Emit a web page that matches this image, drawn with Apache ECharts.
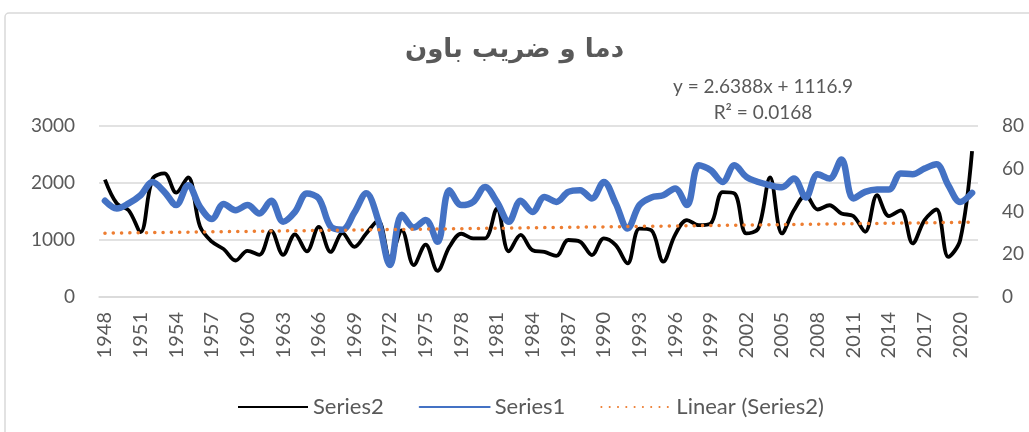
<!DOCTYPE html>
<html>
<head>
<meta charset="utf-8">
<script src="https://cdn.jsdelivr.net/npm/echarts@6/dist/echarts.min.js"></script>
<style>html,body{margin:0;padding:0;background:#fff;}#c{width:1029px;height:432px;}</style>
</head>
<body>
<div id="c"></div>
<script>
var years = [];
for (var y = 1948; y <= 2021; y++) years.push(String(y));

var series2 = [2060,1640,1520,1140,2070,2170,1830,2100,1240,970,840,640,810,740,1160,740,
  1100,800,1230,790,1120,880,1115,1340,680,1170,560,920,460,880,1110,1030,1030,1550,
  800,1090,820,790,720,1000,970,735,1030,910,590,1200,1170,620,1090,1350,1260,1290,
  1840,1815,1115,1200,2100,1115,1520,1785,1535,1610,1465,1420,1145,1785,1420,1520,
  940,1350,1535,705,1000,2560];

var series1 = [45,41.4,43.8,47.6,53.8,49.2,43,52.3,42.2,36.5,43.5,40.6,43,39.1,45,35.2,
  39.8,48.4,46.1,33,31.5,39.5,48.5,36,15,38.5,32.5,36,25.8,50,43,44.5,51.5,44.5,35.2,
  45,39.8,46.8,44.5,49.2,50,46.1,53.8,43.8,32.1,43,46.6,47.6,50.8,43,61.6,59.3,53.8,
  61.6,56.2,53.8,52.3,51.3,55.4,46.6,57.4,55.4,64.3,46.1,49.2,50.3,50.3,57.8,57.4,
  60.1,62.1,52.3,44.5,48.7];

var trendSlope = 2.6388, trendIntercept = 1116.9;
var trend = years.map(function (_, i) { return +(trendSlope * (i + 1) + trendIntercept).toFixed(1); });

var leftTicks = [0, 1000, 2000, 3000];
var rightTicks = [0, 20, 40, 60, 80];
var titleText = 'دما و ضریب باون';
var eqText = 'y = 2.6388x + 1116.9';
var r2Text = 'R² = 0.0168';

var chart = echarts.init(document.getElementById('c'));
var txt = '#595959';
var font = "Lato, 'Noto Sans', sans-serif";
chart.setOption({
  animation: false,
  backgroundColor: '#fff',
  title: {
    text: titleText, left: 'center', top: 32,
    textStyle: { fontFamily: "'DejaVu Sans', sans-serif", fontSize: 26, fontWeight: 'bold', color: txt }
  },
  graphic: [
    { type: 'rect', shape: { x: 5, y: 13, width: 1040, height: 440, r: 4 },
      style: { fill: 'none', stroke: '#d9d9d9', lineWidth: 1.5 }, silent: true, z: -1 },
    { type: 'text', x: 763, y: 87,
      style: { text: eqText, fontFamily: font, fontSize: 19, fill: txt, align: 'center', verticalAlign: 'middle' } },
    { type: 'text', x: 763, y: 113,
      style: { text: r2Text, fontFamily: font, fontSize: 19, fill: txt, align: 'center', verticalAlign: 'middle' } }
  ],
  legend: {
    left: 232, top: 391, itemWidth: 70, itemHeight: 20, itemGap: 35,
    itemStyle: { opacity: 0 },
    textStyle: { fontFamily: font, fontSize: 22, color: txt },
    data: ['Series2', 'Series1', 'Linear (Series2)']
  },
  grid: { left: 99, right: 51, top: 126, bottom: 135, containLabel: false },
  xAxis: {
    type: 'category', data: years, boundaryGap: true,
    axisLine: { lineStyle: { color: '#d9d9d9', width: 1.5 } },
    axisTick: { show: false },
    axisLabel: { interval: 2, rotate: 90, margin: 15, fontFamily: font, fontSize: 20, color: txt }
  },
  yAxis: [
    { type: 'value', min: leftTicks[0], max: leftTicks[leftTicks.length - 1], interval: 1000,
      axisLine: { show: false }, axisTick: { show: false },
      axisLabel: { fontFamily: font, fontSize: 19, color: txt, margin: 24, formatter: function (v) { return String(v); } },
      splitLine: { lineStyle: { color: '#d9d9d9', width: 1.5 } } },
    { type: 'value', min: rightTicks[0], max: rightTicks[rightTicks.length - 1], interval: 20,
      axisLine: { show: false }, axisTick: { show: false },
      axisLabel: { fontFamily: font, fontSize: 19, color: txt, margin: 24, formatter: function (v) { return String(v); } },
      splitLine: { show: false } }
  ],
  series: [
    { name: 'Series2', type: 'line', yAxisIndex: 0, data: series2, smooth: 0.35,
      symbol: 'none', lineStyle: { color: '#000', width: 3.8 }, itemStyle: { color: '#000' }, z: 2 },
    { name: 'Series1', type: 'line', yAxisIndex: 1, data: series1, smooth: 0.35,
      symbol: 'none', lineStyle: { color: '#4472C4', width: 6.5, cap: 'round' }, itemStyle: { color: '#4472C4' }, z: 3 },
    { name: 'Linear (Series2)', type: 'line', yAxisIndex: 0, data: trend, smooth: false,
      symbol: 'none', lineStyle: { color: '#ED7D31', width: 3.5, type: [0.1, 8.2], cap: 'round' },
      itemStyle: { color: '#ED7D31' }, z: 4 }
  ]
});
</script>
</body>
</html>
